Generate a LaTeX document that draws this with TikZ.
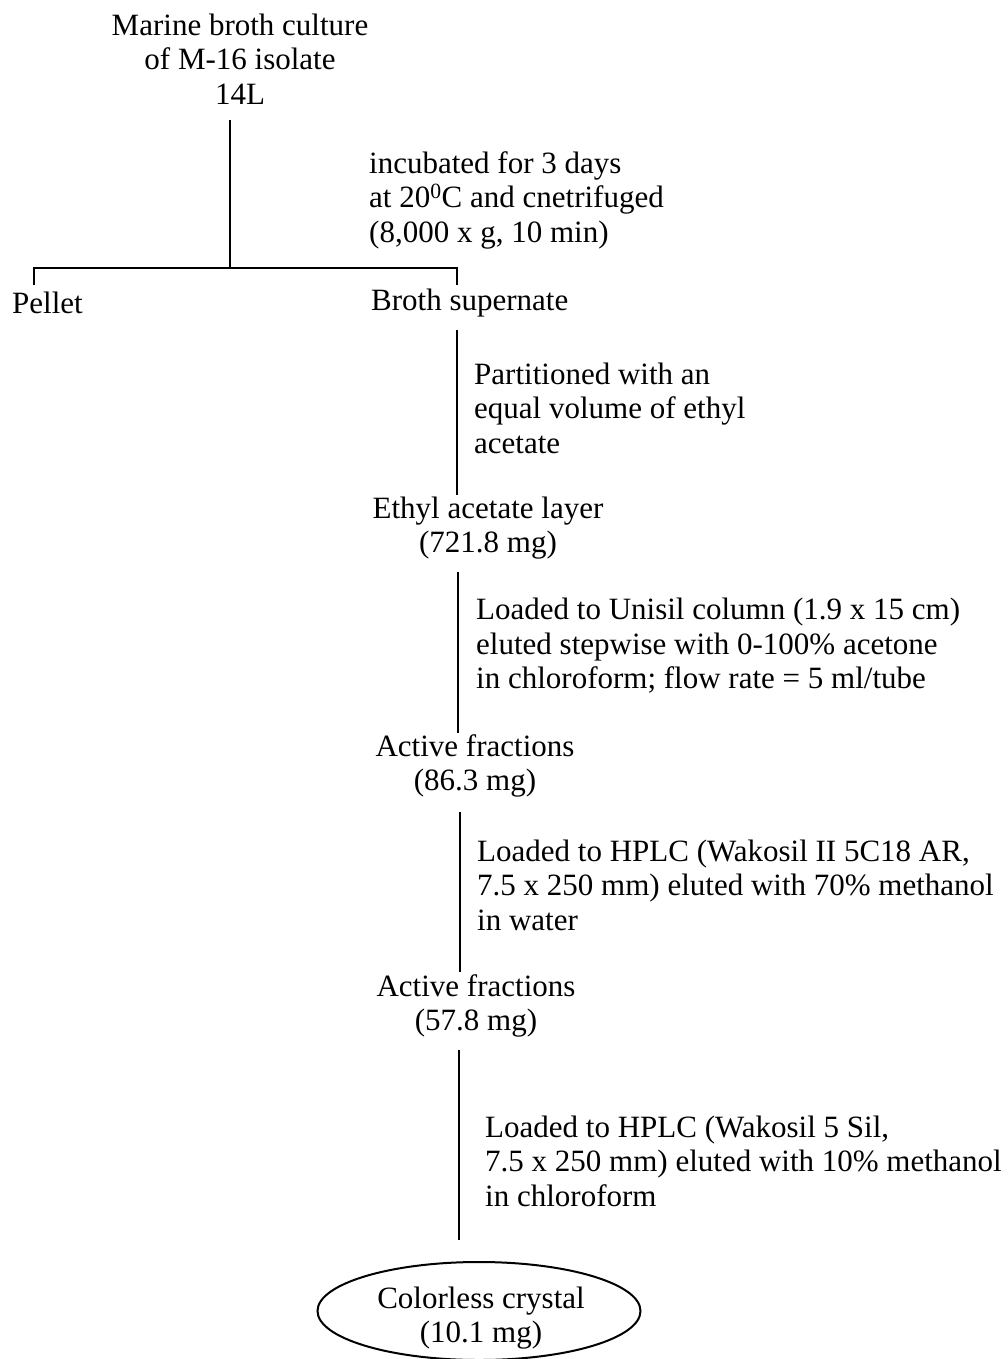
\documentclass[tikz,border=0pt]{standalone}
\usepackage{fontspec}
\setmainfont{Liberation Serif}
\usetikzlibrary{shapes.geometric}
\begin{document}
\begin{tikzpicture}[x=1pt,y=-1pt,
  txt/.style={inner sep=0pt,font=\fontsize{31}{34.5}\selectfont},
  blk/.style={txt,align=left,anchor=west},
  ctr/.style={txt,align=center},
  ln/.style={line width=2.2pt}]
\useasboundingbox (0,0) rectangle (1007,1359);
\node[ctr] (top) at (240,59) {Marine broth culture\\of M-16 isolate\\14L};
\coordinate (t1) at (230,120);
\coordinate (j) at (230,268);
\coordinate (jl) at (34,268);
\coordinate (jr) at (457,268);
\coordinate (pl) at (34,285);
\coordinate (pr) at (457,285);
\draw[ln] (t1) -- (j);
\draw[ln] (pl) -- (jl) -- (jr) -- (pr);
\node[blk] (inc) at (369,200) {incubated for 3 days\\at 20\textsuperscript{0}C and cnetrifuged\\(8,000 x g, 10 min)};
\node[txt,anchor=west] (pellet) at (12,303) {Pellet};
\node[txt,anchor=west] (broth) at (371,303) {Broth supernate};
\coordinate (a1) at (457,330);
\coordinate (a2) at (457,495);
\draw[ln] (a1) -- (a2);
\node[blk] (part) at (474,408) {Partitioned with an\\equal volume of ethyl\\acetate};
\node[ctr] (eth) at (488,528) {Ethyl acetate layer\\(721.8 mg)};
\coordinate (b1) at (458,572);
\coordinate (b2) at (458,733);
\draw[ln] (b1) -- (b2);
\node[blk] (uni) at (476,646) {Loaded to Unisil column (1.9 x 15 cm)\\eluted stepwise with 0-100\% acetone\\in chloroform; flow rate = 5 ml/tube};
\node[ctr] (act1) at (475,766) {Active fractions\\(86.3 mg)};
\coordinate (c1) at (460,812);
\coordinate (c2) at (460,972);
\draw[ln] (c1) -- (c2);
\node[blk] (hplc1) at (477,885) {Loaded to HPLC (Wakosil II 5C18 AR,\\7.5 x 250 mm) eluted with 70\% methanol\\in water};
\node[ctr] (act2) at (476,1006) {Active fractions\\(57.8 mg)};
\coordinate (d1) at (459,1050);
\coordinate (d2) at (459,1240);
\draw[ln] (d1) -- (d2);
\node[blk] (hplc2) at (485,1161) {Loaded to HPLC (Wakosil 5 Sil,\\7.5 x 250 mm) eluted with 10\% methanol\\in chloroform};
\node[ellipse,draw,line width=2pt,minimum width=323pt,minimum height=98pt,inner sep=0pt] (ell) at (479,1311) {};
\node[ctr] (crys) at (481,1318) {Colorless crystal\\(10.1 mg)};
\end{tikzpicture}
\end{document}
